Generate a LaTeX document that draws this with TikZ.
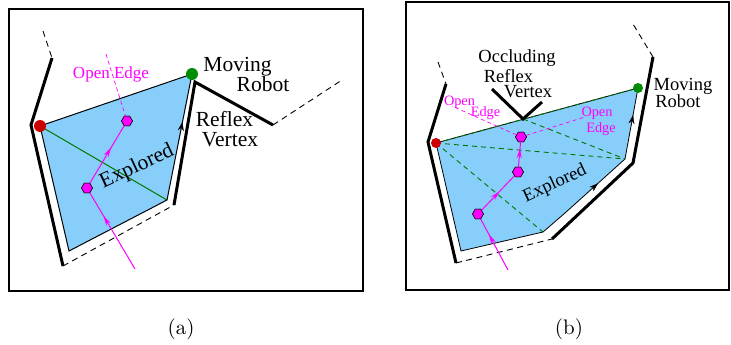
\documentclass[tikz,border=0pt]{standalone}
\usepackage{fontspec}
\newfontfamily\tms{Liberation Serif}
\usetikzlibrary{shapes.geometric,decorations.markings,arrows.meta}
\definecolor{explored}{RGB}{135,206,250}
\definecolor{mag}{RGB}{255,0,255}
\definecolor{rdot}{RGB}{204,0,0}
\definecolor{gdot}{RGB}{0,140,0}
\definecolor{gline}{RGB}{0,120,0}
\tikzset{
  frame/.style={line width=2pt},
  wall/.style={line width=3pt, line join=miter},
  gap/.style={line width=0.9pt, dash pattern=on 6pt off 4.5pt},
  hex/.style={regular polygon, regular polygon sides=6, fill=mag, draw=black, line width=0.5pt, minimum size=11pt, inner sep=0pt},
  rdotst/.style={circle, fill=rdot, inner sep=0pt, minimum size=#1},
  gdotst/.style={circle, fill=gdot, inner sep=0pt, minimum size=#1},
  trail/.style={mag, line width=1pt, postaction=decorate,
    decoration={markings, mark=at position #1 with {\arrow{Stealth[length=10pt,width=5pt]}}}},
  edgearrow/.style={postaction=decorate,
    decoration={markings, mark=at position #1 with {\arrow{Stealth[length=9pt,width=6pt]}}}},
  bigA/.style={font=\tms\fontsize{21.5}{24}\selectfont, inner sep=0pt},
  bigB/.style={font=\tms\fontsize{18.5}{21}\selectfont, inner sep=0pt},
  openA/.style={font=\tms\fontsize{17}{19}\selectfont, text=mag, inner sep=0pt},
  openB/.style={font=\tms\fontsize{14.3}{16}\selectfont, text=mag, inner sep=0pt},
  captxt/.style={font=\normalsize, inner sep=0pt, scale=2.1},
}
\begin{document}
\begin{tikzpicture}[x=1pt,y=-1pt]
\useasboundingbox (0,0) rectangle (731,345);
% ================= panel (a) =================
\draw[frame] (9,9) rectangle (363,291);
\coordinate (aR) at (40,126);
\coordinate (aG) at (192,74);
\coordinate (aC) at (167,200);
\coordinate (aD) at (69,251);
\fill[explored] (aR) -- (aG) -- (aC) -- (aD) -- cycle;
\draw[gline, line width=1pt] (aR) -- (aC);
\draw[line width=1pt, line join=miter] (aR) -- (aG) -- (aC) -- (aD) -- cycle;
\path[edgearrow=0.62] (aC) -- (aG);
\coordinate (aw1) at (43,31);
\coordinate (aw2) at (52,58);
\coordinate (aw3) at (31,125);
\coordinate (aw4) at (63,266);
\coordinate (aw5) at (174,205);
\coordinate (aw6) at (195,82);
\coordinate (aw7) at (273,125);
\coordinate (aw8) at (342,80);
\draw[gap] (aw1) -- (aw2);
\draw[wall] (aw2) -- (aw3) -- (aw4);
\draw[gap] (aw4) -- (aw5);
\draw[wall] (aw5) -- (aw6) -- (aw7);
\draw[gap] (aw7) -- (aw8);
\coordinate (aoe) at (106,54);
\node[hex] (ah2) at (127,121) {};
\node[hex] (ah1) at (87,188) {};
\draw[mag, line width=0.7pt, dash pattern=on 4pt off 3pt] (aoe) -- (ah2);
\node[openA, anchor=base] (aopen) at (111,78) {Open Edge};
\coordinate (as) at (135,269);
\draw[trail=0.7] (as) -- (ah1);
\draw[trail=0.62] (ah1) -- (ah2);
\node[hex] at (ah1) {};
\node[hex] at (ah2) {};
\node[rdotst=12pt] (aRd) at (aR) {};
\node[gdotst=12pt] (aGd) at (aG) {};
\node[bigA, rotate=25] (aexp) at (137,167) {Explored};
\node[bigA, anchor=base] (amov) at (237.5,71) {Moving};
\node[bigA, anchor=base] (arob) at (263,92) {Robot};
\node[bigA, anchor=base] (aref) at (224.5,126) {Reflex};
\node[bigA, anchor=base] (aver) at (230,146) {Vertex};
\node[captxt] (capa) at (181,329) {(a)};
% ================= panel (b) =================
\draw[frame] (406,2) rectangle (729,290);
\coordinate (bR) at (436,143);
\coordinate (bG) at (638,88);
\coordinate (bP1) at (625,159);
\coordinate (bP2) at (565,213);
\coordinate (bP3) at (543,232);
\coordinate (bP4) at (461,251);
\coordinate (bV) at (523,119);
\fill[explored] (bR) -- (bG) -- (bP1) -- (bP2) -- (bP3) -- (bP4) -- cycle;
\draw[line width=0.8pt, line join=miter] (bR) -- (bG) -- (bP1) -- (bP2) -- (bP3) -- (bP4) -- cycle;
\draw[gline, line width=0.9pt, dash pattern=on 5pt off 4pt] (bR) -- (bG);
\draw[gline, line width=0.9pt, dash pattern=on 5pt off 4pt] (bR) -- (bP1);
\draw[gline, line width=0.9pt, dash pattern=on 5pt off 4pt] (bR) -- (bP3);
\draw[gline, line width=0.9pt, dash pattern=on 5pt off 4pt] (bV) -- (bP1);
\path[edgearrow=0.55] (bP2) -- (bP1);
\path[edgearrow=0.62] (bP1) -- (bG);
\coordinate (bw1) at (438,62);
\coordinate (bw2) at (446,84);
\coordinate (bw3) at (428,142);
\coordinate (bw4) at (456,263);
\coordinate (bw5) at (552,239);
\coordinate (bw6) at (633,163);
\coordinate (bw7) at (653,57);
\coordinate (bw8) at (633,24);
\draw[gap] (bw1) -- (bw2);
\draw[wall] (bw2) -- (bw3) -- (bw4);
\draw[gap] (bw4) -- (bw5);
\draw[wall] (bw5) -- (bw6) -- (bw7);
\draw[gap] (bw7) -- (bw8);
\coordinate (bv1) at (492,89);
\coordinate (bv2) at (542,102);
\draw[wall] (bv1) -- (bV) -- (bv2);
\node[hex] (bh3) at (521,137) {};
\node[hex] (bh2) at (518,172) {};
\node[hex] (bh1) at (478,214) {};
\coordinate (boe1) at (452,106);
\coordinate (boe2) at (585,117);
\draw[mag, line width=0.7pt, dash pattern=on 4pt off 3pt] (bh3) -- (boe1);
\draw[mag, line width=0.7pt, dash pattern=on 4pt off 3pt] (bh3) -- (boe2);
\coordinate (bs) at (508,270);
\draw[trail=0.7] (bs) -- (bh1);
\draw[trail=0.55] (bh1) -- (bh2);
\draw[trail=0.75] (bh2) -- (bh3);
\node[hex] at (bh1) {};
\node[hex] at (bh2) {};
\node[hex] at (bh3) {};
\node[rdotst=10pt] (bRd) at (bR) {};
\node[gdotst=10pt] (bGd) at (bG) {};
\node[bigB, rotate=25] (bexp) at (555,184) {Explored};
\node[bigB, anchor=base] (bocc) at (517,63) {Occluding};
\node[bigB, anchor=base] (bref) at (508.5,82) {Reflex};
\node[bigB, anchor=base] (bver) at (528,97) {Vertex};
\node[bigB, anchor=base] (bmov) at (683,91) {Moving};
\node[bigB, anchor=base] (brob) at (678,107) {Robot};
\node[openB, anchor=base] (bop1) at (459.5,105) {Open};
\node[openB, anchor=base] (bed1) at (485.5,116) {Edge};
\node[openB, anchor=base] (bop2) at (597,116) {Open};
\node[openB, anchor=base] (bed2) at (601,132) {Edge};
\node[captxt] (capb) at (569,329) {(b)};
\end{tikzpicture}
\end{document}
